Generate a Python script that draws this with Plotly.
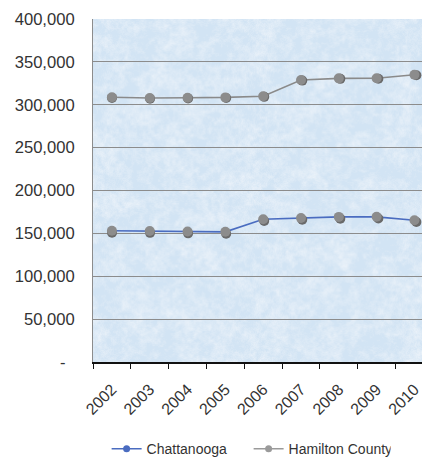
import base64
import struct
import zlib

import numpy as np
import plotly.graph_objects as go

# Population by year
years = ["2002", "2003", "2004", "2005", "2006", "2007", "2008", "2009", "2010"]
chattanooga = [153000, 152800, 152200, 151800, 166500, 168000, 169200, 169300, 165300]
hamilton_county = [308800, 307800, 308200, 308600, 310000, 328800, 330800, 330900, 335000]

y_ticks = [0, 50000, 100000, 150000, 200000, 250000, 300000, 350000, 400000]
y_tick_text = ["-\u00a0\u00a0", "50,000", "100,000", "150,000", "200,000", "250,000",
               "300,000", "350,000", "400,000"]

W, H = 422, 457
M_L, M_R, M_T, M_B = 93, 0, 19, 95
plot_w = W - M_L - M_R
plot_h = H - M_T - M_B

x_range = [-0.5, 8.20]
y_range = [0, 400000]
px_per_cat = plot_w / (x_range[1] - x_range[0])
px_per_val = plot_h / (y_range[1] - y_range[0])

# marker drop-shadow offset (pixels)
SX, SY = 2, 3

BLUE = "#4a6cc0"
GREY_LINE = "#8a8a8a"
MARKER = "#8c8c8c"
SHADOW = "#6a6a6a"
TEXT = "#333333"
FONT = "Liberation Sans, Arial, sans-serif"


def texture_png(w, h, seed=11):
    """Pale blue mottled fill for the plot area, returned as a PNG data URI."""
    rng = np.random.default_rng(seed)
    field = np.zeros((h, w))
    for cell, weight in ((16, 0.25), (7, 0.3), (3, 0.28), (1, 0.17)):
        gh, gw = h // cell + 2, w // cell + 2
        grid = rng.random((gh, gw))
        yi = np.linspace(0, gh - 1.001, h)
        xi = np.linspace(0, gw - 1.001, w)
        y0, x0 = yi.astype(int), xi.astype(int)
        fy, fx = (yi - y0)[:, None], (xi - x0)[None, :]
        a = grid[y0][:, x0]
        b = grid[y0][:, x0 + 1]
        c = grid[y0 + 1][:, x0]
        d = grid[y0 + 1][:, x0 + 1]
        field += weight * (a * (1 - fx) * (1 - fy) + b * fx * (1 - fy)
                           + c * (1 - fx) * fy + d * fx * fy)
    field = (field - field.min()) / (field.max() - field.min())
    base = np.array([210, 228, 244], dtype=float)
    light = np.array([236, 243, 250], dtype=float)
    t = np.clip((field - 0.3) * 1.5, 0, 1)[..., None]
    rgb = (base * (1 - t) + light * t).astype(np.uint8)
    raw = b"".join(b"\x00" + rgb[r].tobytes() for r in range(h))

    def chunk(tag, data):
        body = tag + data
        return struct.pack(">I", len(data)) + body + struct.pack(">I", zlib.crc32(body) & 0xffffffff)

    png = (b"\x89PNG\r\n\x1a\n"
           + chunk(b"IHDR", struct.pack(">IIBBBBB", w, h, 8, 2, 0, 0, 0))
           + chunk(b"IDAT", zlib.compress(raw, 9))
           + chunk(b"IEND", b""))
    return "data:image/png;base64," + base64.b64encode(png).decode()


fig = go.Figure()

# connecting lines
fig.add_trace(go.Scatter(x=years, y=chattanooga, mode="lines",
                         line=dict(color=BLUE, width=1.6), showlegend=False,
                         hoverinfo="skip"))
fig.add_trace(go.Scatter(x=years, y=hamilton_county, mode="lines",
                         line=dict(color=GREY_LINE, width=1.6), showlegend=False,
                         hoverinfo="skip"))

# marker shadows on a shifted overlay
for series in (chattanooga, hamilton_county):
    fig.add_trace(go.Scatter(x=years, y=series, mode="markers", xaxis="x2", yaxis="y2",
                             marker=dict(color=SHADOW, size=10), showlegend=False,
                             hoverinfo="skip", cliponaxis=False))
# markers
for series in (chattanooga, hamilton_county):
    fig.add_trace(go.Scatter(x=years, y=series, mode="markers", xaxis="x3", yaxis="y3",
                             marker=dict(color=MARKER, size=10), showlegend=False,
                             cliponaxis=False))

# legend entries
fig.add_trace(go.Scatter(x=[None], y=[None], mode="lines+markers", name="Chattanooga",
                         line=dict(color=BLUE, width=1.6),
                         marker=dict(color=BLUE, size=7)))
fig.add_trace(go.Scatter(x=[None], y=[None], mode="lines+markers", name="Hamilton County",
                         line=dict(color="#9a9a9a", width=1.6),
                         marker=dict(color="#9a9a9a", size=7)))

dx = SX / plot_w
dy = SY / plot_h
shadow_x_range = [x_range[0], x_range[1] - SX / px_per_cat]
shadow_y_range = [y_range[1] - (plot_h - SY) / px_per_val, y_range[1]]

fig.add_layout_image(dict(
    source=texture_png(plot_w, plot_h), xref="paper", yref="paper",
    x=0, y=1, sizex=1, sizey=1, xanchor="left", yanchor="top",
    sizing="stretch", layer="below",
))

fig.update_layout(
    width=W, height=H,
    margin=dict(l=M_L, r=M_R, t=M_T, b=M_B, autoexpand=False),
    paper_bgcolor="white",
    plot_bgcolor="#dbe8f4",
    font=dict(family=FONT, color=TEXT, size=16),
    xaxis=dict(
        type="category", categoryorder="array", categoryarray=years,
        range=x_range, showgrid=False, zeroline=False, automargin=False,
        showline=True, linecolor="#111111", linewidth=1.5,
        ticks="outside", tickson="boundaries", ticklen=5, tickcolor="#111111",
        tickangle=-45, ticklabelstandoff=10, tickfont=dict(size=16, color=TEXT),
    ),
    yaxis=dict(
        range=y_range, tickvals=y_ticks, ticktext=y_tick_text, automargin=False,
        showgrid=True, gridcolor="#8c8c8c", gridwidth=1,
        zeroline=False, showline=True, linecolor="#8c8c8c", linewidth=1,
        ticks="", ticklabelstandoff=14, tickfont=dict(size=16.6, color=TEXT),
    ),
    xaxis2=dict(type="category", categoryorder="array", categoryarray=years,
                overlaying="x", domain=[dx, 1], range=shadow_x_range, visible=False,
                anchor="y2"),
    yaxis2=dict(overlaying="y", domain=[0, 1 - dy], range=shadow_y_range,
                visible=False, anchor="x2"),
    xaxis3=dict(type="category", categoryorder="array", categoryarray=years,
                overlaying="x", range=x_range, visible=False, anchor="y3"),
    yaxis3=dict(overlaying="y", range=y_range, visible=False, anchor="x3"),
    legend=dict(orientation="h", x=0.473, xanchor="center", y=-0.254, yanchor="middle",
                font=dict(size=14, color=TEXT), bgcolor="rgba(0,0,0,0)",
                itemwidth=30, entrywidth=97, tracegroupgap=0),
    showlegend=True,
)

fig.write_html("out.html")
